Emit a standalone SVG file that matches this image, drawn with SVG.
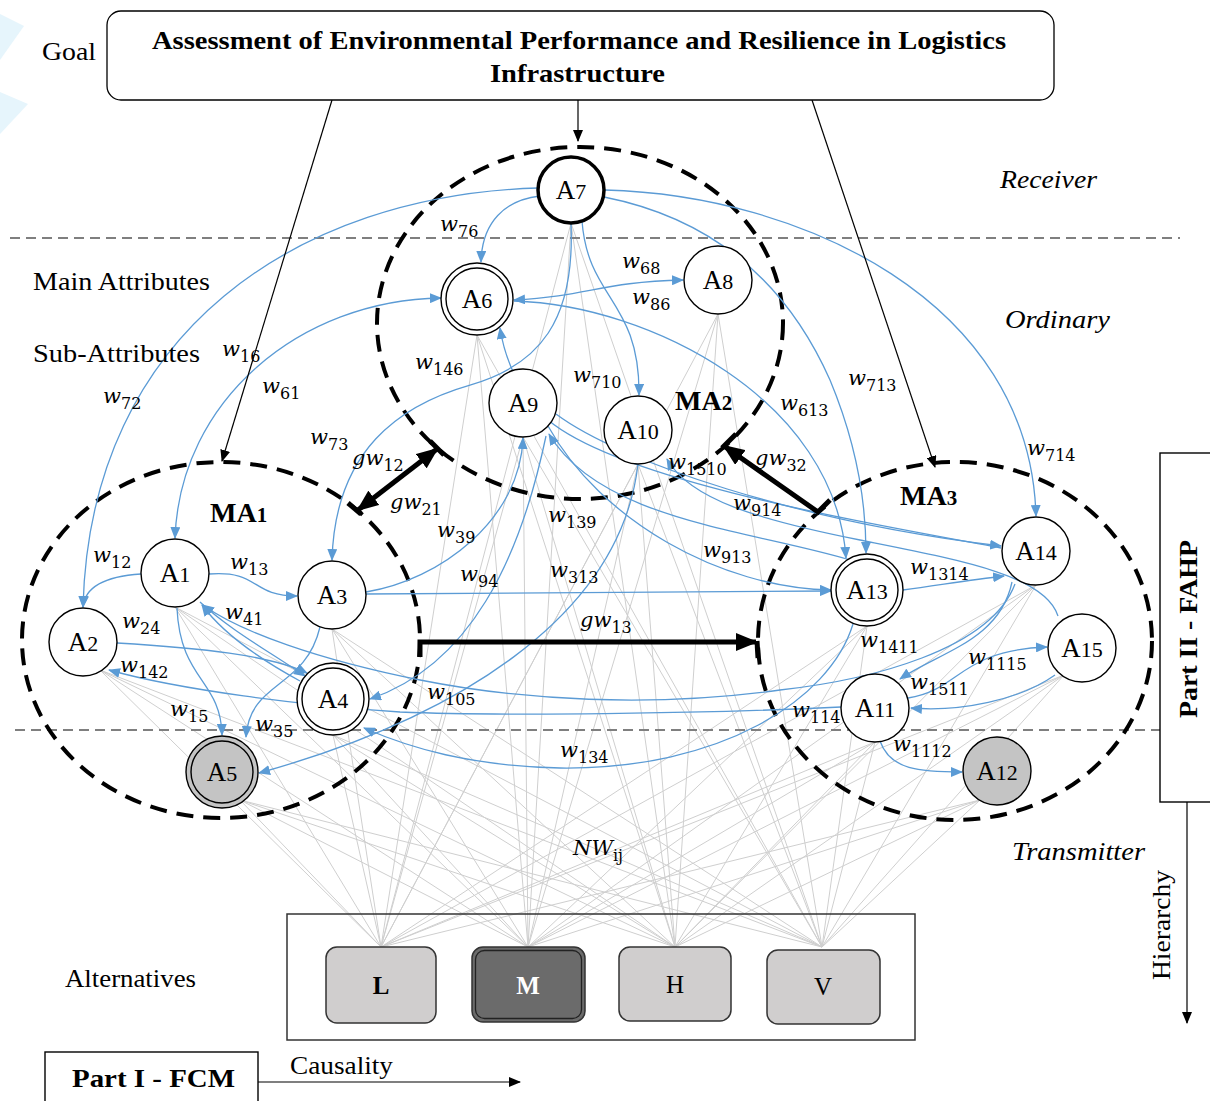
<svg xmlns="http://www.w3.org/2000/svg" width="1210" height="1101" viewBox="0 0 1210 1101">
<style>
.bg{fill:#fff}
.gray{stroke:#cfcfcf;stroke-width:1;fill:none}
.lvl{stroke:#7f7f7f;stroke-width:1.8;stroke-dasharray:10 6;fill:none}
.ma{fill:none;stroke:#000;stroke-width:4;stroke-dasharray:17 10}
.blue{fill:none;stroke:#5b9bd5;stroke-width:1.3}
.thin{fill:none;stroke:#000;stroke-width:1.2}
.thick{fill:none;stroke:#000;stroke-width:5}
.node{fill:#fff;stroke:#000;stroke-width:1.4}
.gnode{fill:#c4c4c4;stroke:#000;stroke-width:1.4}
.nt{font-family:"Liberation Serif",serif;font-size:27px;text-anchor:middle;fill:#000}
.nd{font-size:22px}
.w{font-family:"DejaVu Serif",serif;font-style:italic;font-size:21px;fill:#000}
.s{font-style:normal;font-size:16px}
.lab{font-family:"Liberation Serif",serif;font-size:25px;fill:#000}
.it{font-style:italic}
.bold{font-weight:bold}
.ma-t{font-family:"Liberation Serif",serif;font-weight:bold;font-size:28px}
.alt{fill:#d0cece;stroke:#333;stroke-width:1.5}
</style>
<defs>
<marker id="ab" markerUnits="userSpaceOnUse" markerWidth="12" markerHeight="10" refX="11" refY="5" orient="auto-start-reverse"><path d="M0,0 L12,5 L0,10 z" fill="#5b9bd5"/></marker>
<marker id="ak" markerUnits="userSpaceOnUse" markerWidth="12" markerHeight="10" refX="11" refY="5" orient="auto-start-reverse"><path d="M0,0 L12,5 L0,10 z" fill="#000"/></marker>
<marker id="aK" markerUnits="userSpaceOnUse" markerWidth="22" markerHeight="18" refX="20" refY="9" orient="auto-start-reverse"><path d="M0,0 L22,9 L0,18 z" fill="#000"/></marker>
</defs>
<rect class="bg" x="0" y="0" width="1210" height="1101"/>
<polygon points="0,14 24,26 0,60" fill="#e6f5fc"/>
<polygon points="0,92 28,104 0,134" fill="#e6f5fc"/>

<g id="gray-links">
<path class="gray" d="M571,223 L381,947 M571,223 L528,947 M571,223 L675,947 M571,223 L822,947
M477,335 L381,947 M477,335 L528,947 M477,335 L675,947 M477,335 L822,947
M718,314 L381,947 M718,314 L528,947 M718,314 L675,947 M718,314 L822,947
M523,437 L381,947 M523,437 L528,947 M523,437 L675,947 M523,437 L822,947
M638,464 L381,947 M638,464 L528,947 M638,464 L675,947 M638,464 L822,947
M175,607 L381,947 M175,607 L528,947 M175,607 L675,947 M175,607 L822,947
M100,670 L381,947 M100,670 L528,947 M100,670 L675,947 M100,670 L822,947
M332,629 L381,947 M332,629 L528,947 M332,629 L675,947 M332,629 L822,947
M333,735 L381,947 M333,735 L528,947 M333,735 L675,947 M333,735 L822,947
M240,800 L381,947 M240,800 L528,947 M240,800 L675,947 M240,800 L822,947
M867,626 L381,947 M867,626 L528,947 M867,626 L675,947 M867,626 L822,947
M1036,585 L381,947 M1036,585 L528,947 M1036,585 L675,947 M1036,585 L822,947
M1064,675 L381,947 M1064,675 L528,947 M1064,675 L675,947 M1064,675 L822,947
M875,742 L381,947 M875,742 L528,947 M875,742 L675,947 M875,742 L822,947
M980,800 L381,947 M980,800 L528,947 M980,800 L675,947 M980,800 L822,947"/>
</g>

<g id="levels">
<line class="lvl" x1="10" y1="238" x2="1180" y2="238"/>
<line class="lvl" x1="15" y1="730" x2="1160" y2="730"/>
</g>

<g id="MA2"><ellipse class="ma" cx="580" cy="323" rx="203" ry="176"/><text class="ma-t" x="675" y="410">MA<tspan font-size="21">2</tspan></text></g>
<g id="MA1"><ellipse class="ma" cx="221" cy="640" rx="199" ry="178"/><text class="ma-t" x="210" y="522">MA<tspan font-size="21">1</tspan></text></g>
<g id="MA3"><ellipse class="ma" cx="955" cy="641" rx="197" ry="179"/><text class="ma-t" x="900" y="505">MA<tspan font-size="21">3</tspan></text></g>

<g id="connectors">
<path class="blue" marker-end="url(#ab)" d="M540,196 C505,200 482,222 481,262"/>
<path class="blue" marker-end="url(#ab)" d="M538,188 C300,195 90,330 83,607"/>
<path class="blue" marker-start="url(#ab)" marker-end="url(#ab)" d="M441,298 C300,300 180,400 175,538"/>
<path class="blue" marker-end="url(#ab)" d="M571,224 C575,320 540,365 470,385 C400,405 335,450 332,560"/>
<path class="blue" marker-end="url(#ab)" d="M582,221 C588,300 640,300 639,395"/>
<path class="blue" marker-end="url(#ab)" d="M604,197 C720,220 790,290 830,380 C855,440 866,500 866,553"/>
<path class="blue" marker-end="url(#ab)" d="M605,190 C800,195 1030,300 1036,516"/>
<path class="blue" marker-start="url(#ab)" marker-end="url(#ab)" d="M514,300 C590,296 600,282 683,280"/>
<path class="blue" marker-end="url(#ab)" d="M514,301 C650,305 835,400 846,558"/>
<path class="blue" marker-end="url(#ab)" d="M1001,548 C850,520 620,480 548,420 C520,395 505,360 500,328"/>
<path class="blue" marker-end="url(#ab)" d="M556,414 C620,462 800,522 1001,546"/>
<path class="blue" marker-end="url(#ab)" d="M850,560 C750,530 600,520 549,434"/>
<path class="blue" marker-end="url(#ab)" d="M548,426 C600,520 720,588 831,590"/>
<path class="blue" marker-end="url(#ab)" d="M1058,616 C1045,575 960,560 860,540 C760,520 690,500 667,459"/>
<path class="blue" marker-end="url(#ab)" d="M366,592 C440,580 520,520 523,438"/>
<path class="blue" marker-end="url(#ab)" d="M546,436 C520,560 470,665 370,699"/>
<path class="blue" marker-end="url(#ab)" d="M638,464 C620,620 450,720 259,773"/>
<path class="blue" marker-end="url(#ab)" d="M366,594 L831,591"/>
<path class="blue" marker-end="url(#ab)" d="M903,590 C940,585 970,580 1004,576"/>
<path class="blue" marker-end="url(#ab)" d="M1012,582 C1000,640 940,652 900,679"/>
<path class="blue" marker-end="url(#ab)" d="M1015,584 C990,650 870,680 780,690 C650,708 520,700 420,680 C320,660 240,632 203,605"/>
<path class="blue" marker-end="url(#ab)" d="M841,707 C700,714 500,716 400,712 C300,705 180,690 109,670"/>
<path class="blue" marker-end="url(#ab)" d="M853,624 C830,700 720,770 560,768 C470,766 410,748 364,728"/>
<path class="blue" marker-end="url(#ab)" d="M908,698 C960,690 960,650 1047,647"/>
<path class="blue" marker-end="url(#ab)" d="M1055,675 C1020,700 960,712 911,708"/>
<path class="blue" marker-end="url(#ab)" d="M880,741 C890,770 920,772 962,772"/>
<path class="blue" marker-end="url(#ab)" d="M141,574 C110,576 85,585 83,607"/>
<path class="blue" marker-end="url(#ab)" d="M209,574 C260,570 250,596 297,596"/>
<path class="blue" marker-end="url(#ab)" d="M117,643 C200,648 270,655 307,673"/>
<path class="blue" marker-end="url(#ab)" d="M200,602 C230,630 270,652 305,676"/>
<path class="blue" marker-end="url(#ab)" d="M300,681 C265,662 225,636 202,605"/>
<path class="blue" marker-end="url(#ab)" d="M177,608 C180,680 221,680 222,735"/>
<path class="blue" marker-end="url(#ab)" d="M320,627 C305,690 250,680 246,737"/>

<line class="thin" marker-end="url(#ak)" x1="332" y1="100" x2="222" y2="461"/>
<line class="thin" marker-end="url(#ak)" x1="578" y1="100" x2="578" y2="141"/>
<line class="thin" marker-end="url(#ak)" x1="812" y1="100" x2="935" y2="467"/>

<line class="thick" marker-start="url(#aK)" marker-end="url(#aK)" x1="358" y1="510" x2="437" y2="449"/>
<line class="thick" stroke-width="4" x1="430" y1="441" x2="444" y2="455"/>
<line class="thick" stroke-width="4" x1="348" y1="503" x2="361" y2="514"/>
<polyline class="thick" marker-end="url(#aK)" points="830,500 818,512 724,446"/>
<line class="thick" stroke-width="4" x1="722" y1="448" x2="736" y2="434"/>
<polyline class="thick" marker-end="url(#aK)" points="420,657 420,642 756,642"/>
<line class="thick" stroke-width="4" x1="757" y1="641" x2="758" y2="658"/>
</g>

<g id="edge-labels">
<text class="w" x="440" y="231">w<tspan class="s" dy="6">76</tspan></text>
<text class="w" x="103" y="403">w<tspan class="s" dy="6">72</tspan></text>
<text class="w" x="222" y="356">w<tspan class="s" dy="6">16</tspan></text>
<text class="w" x="262" y="393">w<tspan class="s" dy="6">61</tspan></text>
<text class="w" x="415" y="369">w<tspan class="s" dy="6">146</tspan></text>
<text class="w" x="573" y="382">w<tspan class="s" dy="6">710</tspan></text>
<text class="w" x="622" y="268">w<tspan class="s" dy="6">68</tspan></text>
<text class="w" x="632" y="304">w<tspan class="s" dy="6">86</tspan></text>
<text class="w" x="310" y="444">w<tspan class="s" dy="6">73</tspan></text>
<text class="w" x="352" y="465">gw<tspan class="s" dy="6">12</tspan></text>
<text class="w" x="390" y="509">gw<tspan class="s" dy="6">21</tspan></text>
<text class="w" x="437" y="537">w<tspan class="s" dy="6">39</tspan></text>
<text class="w" x="548" y="522">w<tspan class="s" dy="6">139</tspan></text>
<text class="w" x="780" y="410">w<tspan class="s" dy="6">613</tspan></text>
<text class="w" x="848" y="385">w<tspan class="s" dy="6">713</tspan></text>
<text class="w" x="1027" y="455">w<tspan class="s" dy="6">714</tspan></text>
<text class="w" x="755" y="465">gw<tspan class="s" dy="6">32</tspan></text>
<text class="w" x="668" y="469">w<tspan class="s" dy="6">1510</tspan></text>
<text class="w" x="733" y="510">w<tspan class="s" dy="6">914</tspan></text>
<text class="w" x="703" y="557">w<tspan class="s" dy="6">913</tspan></text>
<text class="w" x="460" y="581">w<tspan class="s" dy="6">94</tspan></text>
<text class="w" x="550" y="577">w<tspan class="s" dy="6">313</tspan></text>
<text class="w" x="580" y="627">gw<tspan class="s" dy="6">13</tspan></text>
<text class="w" x="93" y="562">w<tspan class="s" dy="6">12</tspan></text>
<text class="w" x="230" y="569">w<tspan class="s" dy="6">13</tspan></text>
<text class="w" x="122" y="628">w<tspan class="s" dy="6">24</tspan></text>
<text class="w" x="225" y="619">w<tspan class="s" dy="6">41</tspan></text>
<text class="w" x="120" y="672">w<tspan class="s" dy="6">142</tspan></text>
<text class="w" x="170" y="716">w<tspan class="s" dy="6">15</tspan></text>
<text class="w" x="255" y="731">w<tspan class="s" dy="6">35</tspan></text>
<text class="w" x="427" y="699">w<tspan class="s" dy="6">105</tspan></text>
<text class="w" x="560" y="757">w<tspan class="s" dy="6">134</tspan></text>
<text class="w" x="910" y="574">w<tspan class="s" dy="6">1314</tspan></text>
<text class="w" x="860" y="647">w<tspan class="s" dy="6">1411</tspan></text>
<text class="w" x="968" y="664">w<tspan class="s" dy="6">1115</tspan></text>
<text class="w" x="910" y="689">w<tspan class="s" dy="6">1511</tspan></text>
<text class="w" x="792" y="717">w<tspan class="s" dy="6">114</tspan></text>
<text class="w" x="893" y="751">w<tspan class="s" dy="6">1112</tspan></text>
<text class="w" x="573" y="855">NW<tspan class="s" font-style="italic" font-size="17" dy="6">ij</tspan></text>
</g>

<g id="A7"><circle cx="571" cy="190" r="33" fill="#fff" stroke="#000" stroke-width="3.5"/><text class="nt" x="571" y="199">A<tspan class="nd">7</tspan></text></g>
<g id="A6"><circle class="node" cx="477" cy="299" r="36"/><circle class="node" cx="477" cy="299" r="31"/><text class="nt" x="477" y="308">A<tspan class="nd">6</tspan></text></g>
<g id="A8"><circle class="node" cx="718" cy="280" r="34"/><text class="nt" x="718" y="289">A<tspan class="nd">8</tspan></text></g>
<g id="A9"><circle class="node" cx="523" cy="403" r="34"/><text class="nt" x="523" y="412">A<tspan class="nd">9</tspan></text></g>
<g id="A10"><circle class="node" cx="638" cy="430" r="34"/><text class="nt" x="638" y="439">A<tspan class="nd">10</tspan></text></g>
<g id="A1"><circle class="node" cx="175" cy="573" r="34"/><text class="nt" x="175" y="582">A<tspan class="nd">1</tspan></text></g>
<g id="A2"><circle class="node" cx="83" cy="642" r="34"/><text class="nt" x="83" y="651">A<tspan class="nd">2</tspan></text></g>
<g id="A3"><circle class="node" cx="332" cy="595" r="34"/><text class="nt" x="332" y="604">A<tspan class="nd">3</tspan></text></g>
<g id="A4"><circle class="node" cx="333" cy="699" r="36"/><circle class="node" cx="333" cy="699" r="31"/><text class="nt" x="333" y="708">A<tspan class="nd">4</tspan></text></g>
<g id="A5"><circle class="gnode" cx="222" cy="772" r="36"/><circle class="gnode" cx="222" cy="772" r="31"/><text class="nt" x="222" y="781">A<tspan class="nd">5</tspan></text></g>
<g id="A13"><circle class="node" cx="867" cy="590" r="36"/><circle class="node" cx="867" cy="590" r="31"/><text class="nt" x="867" y="599">A<tspan class="nd">13</tspan></text></g>
<g id="A14"><circle class="node" cx="1036" cy="551" r="34"/><text class="nt" x="1036" y="560">A<tspan class="nd">14</tspan></text></g>
<g id="A15"><circle class="node" cx="1082" cy="648" r="34"/><text class="nt" x="1082" y="657">A<tspan class="nd">15</tspan></text></g>
<g id="A11"><circle class="node" cx="875" cy="708" r="34"/><text class="nt" x="875" y="717">A<tspan class="nd">11</tspan></text></g>
<g id="A12"><circle class="gnode" cx="997" cy="771" r="34"/><text class="nt" x="997" y="780">A<tspan class="nd">12</tspan></text></g>

<g id="goal">
<rect x="107" y="11" width="947" height="89" rx="14" fill="#fff" stroke="#000" stroke-width="1.3"/>
<text class="lab bold" x="152" y="49" font-size="27" textLength="854" lengthAdjust="spacingAndGlyphs">Assessment of Environmental Performance and Resilience in Logistics</text>
<text class="lab bold" x="490" y="82" font-size="27" textLength="175" lengthAdjust="spacingAndGlyphs">Infrastructure</text>
</g>

<g id="side-labels">
<text class="lab" x="42" y="60" textLength="54" lengthAdjust="spacingAndGlyphs">Goal</text>
<text class="lab it" x="1000" y="188" textLength="97" lengthAdjust="spacingAndGlyphs">Receiver</text>
<text class="lab" x="33" y="290" textLength="177" lengthAdjust="spacingAndGlyphs">Main Attributes</text>
<text class="lab" x="33" y="362" textLength="167" lengthAdjust="spacingAndGlyphs">Sub-Attributes</text>
<text class="lab it" x="1005" y="328" textLength="105" lengthAdjust="spacingAndGlyphs">Ordinary</text>
<text class="lab it" x="1012" y="860" textLength="133" lengthAdjust="spacingAndGlyphs">Transmitter</text>
<text class="lab" x="65" y="987" textLength="131" lengthAdjust="spacingAndGlyphs">Alternatives</text>
<text class="lab" x="290" y="1074" textLength="103" lengthAdjust="spacingAndGlyphs">Causality</text>
</g>

<g id="alternatives">
<rect x="287" y="914" width="628" height="126" fill="none" stroke="#333" stroke-width="1.5"/>
<g id="L"><rect class="alt" x="326" y="947" width="110" height="76" rx="11"/><text class="lab bold" x="381" y="994" text-anchor="middle" font-size="24">L</text></g>
<g id="M"><rect x="472" y="947" width="113" height="75" rx="11" fill="#6b6b6b" stroke="#333" stroke-width="1.5"/><rect x="475.5" y="950.5" width="106" height="68" rx="9" fill="none" stroke="#222" stroke-width="1.3"/><text class="lab bold" x="528" y="994" text-anchor="middle" font-size="24" style="fill:#fff">M</text></g>
<g id="H"><rect class="alt" x="619" y="947" width="112" height="74" rx="11"/><text class="lab" x="675" y="993" text-anchor="middle" font-size="24">H</text></g>
<g id="V"><rect class="alt" x="767" y="950" width="113" height="74" rx="11"/><text class="lab" x="823" y="995" text-anchor="middle" font-size="24">V</text></g>
</g>

<g id="part1">
<rect x="45" y="1052" width="213" height="60" fill="#fff" stroke="#000" stroke-width="1.4"/>
<text class="lab bold" x="72" y="1087" textLength="163" lengthAdjust="spacingAndGlyphs">Part I - FCM</text>
<line class="thin" marker-end="url(#ak)" x1="258" y1="1082" x2="520" y2="1082"/>
</g>

<g id="part2">
<rect x="1160" y="453" width="60" height="349" fill="#fff" stroke="#000" stroke-width="1.4"/>
<text class="lab bold" transform="translate(1197,629) rotate(-90)" text-anchor="middle" textLength="178" lengthAdjust="spacingAndGlyphs">Part II - FAHP</text>
<line class="thin" marker-end="url(#ak)" x1="1187" y1="802" x2="1187" y2="1023"/>
<text class="lab" transform="translate(1170,925) rotate(-90)" text-anchor="middle" textLength="110" lengthAdjust="spacingAndGlyphs">Hierarchy</text>
</g>
</svg>
